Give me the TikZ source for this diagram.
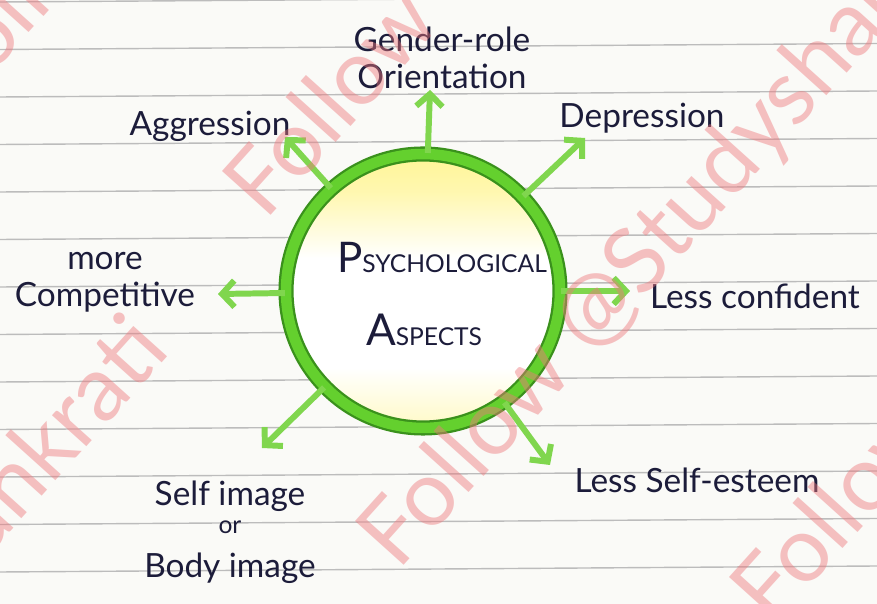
\documentclass[tikz,border=0pt]{standalone}
\usepackage{fontspec}
\setmainfont{Lato}
\usetikzlibrary{arrows.meta,positioning}

\definecolor{paper}{RGB}{250,250,247}
\definecolor{ruling}{RGB}{188,188,188}
\definecolor{ink}{RGB}{28,28,58}
\definecolor{ringdark}{RGB}{58,145,28}
\definecolor{ringgreen}{RGB}{100,208,46}
\definecolor{spokegreen}{RGB}{128,214,78}
\definecolor{lemon}{RGB}{255,245,150}
\definecolor{pinkmark}{RGB}{238,120,124}

% yellow at the rim, white round the text
\pgfdeclareverticalshading{hubfill}{100bp}{%
  color(0bp)=(lemon!55); color(25bp)=(lemon!55); color(36bp)=(white);
  color(56bp)=(white); color(68bp)=(lemon!75); color(75bp)=(lemon);
  color(100bp)=(lemon)}

\begin{document}
\begin{tikzpicture}[x=0.02cm, y=-0.02cm,
    hub/.style = {circle, minimum size=5.48cm, inner sep=0pt,
      draw=ringdark, line width=1.3pt, double=ringgreen, double distance=6pt,
      shading=hubfill},
    spoke/.style = {draw=spokegreen, line width=3.4pt,
      -{Straight Barb[length=7pt,width=15pt]}},
    aspect/.style = {text=ink, font=\fontsize{19}{21}\selectfont, align=center},
    hubtext/.style = {text=ink, font=\fontsize{14}{16}\selectfont},
    watermark/.style = {text=pinkmark, opacity=0.45, rotate=48, inner sep=0pt,
      font=\fontsize{52}{54}\selectfont}]

  % paper and ruled lines
  \path[use as bounding box, fill=paper] (0,0) rectangle (877,604);
  \foreach \i in {0,...,12}
    \draw[ruling, line width=0.8pt] (0,2+47.5*\i) -- (877,-4+47.5*\i);

  % centre
  \node[hub] (hub) at (423,291) {};
  \node[hubtext] (psy) at (442,257) {{\fontsize{24}{24}\selectfont P}SYCHOLOGICAL};
  \node[hubtext] (asp) at (424,330) {{\fontsize{25}{25}\selectfont A}SPECTS};

  % aspects
  \node[aspect] (gender) at (442,58) {Gender-role\\Orientation};
  \node[aspect] (aggr) at (210,126) {Aggression};
  \node[aspect] (depr) at (642,118) {Depression};
  \node[aspect] (compet) at (105,282) {more\\Competitive};
  \node[aspect] (lessconf) at (755,296) {Less confident};
  \node[aspect] (lessself) at (697,480) {Less Self-esteem};
  \node[aspect] (selfimg) at (230,532)
    {Self image\\[-5pt]{\fontsize{14}{14}\selectfont or}\\[4pt]Body image};

  % arrow ends
  \coordinate (tgender) at (430,90);
  \coordinate (taggr) at (285,137);
  \coordinate (tdepr) at (585,138);
  \coordinate (tcompet) at (218,294);
  \coordinate (tlessconf) at (630,291);
  \coordinate (tselfimg) at (262,448);
  \coordinate (tlessself) at (550,465);

  \foreach \t in {tgender,taggr,tdepr,tcompet,tlessconf,tselfimg,tlessself}
    \draw[spoke] (hub) -- (\t);

  % watermark
  \begin{scope}
    \clip (0,0) rectangle (877,604);
    \node[watermark, anchor=base west] (wm1) at (398,572) {Follow @Studyshankrati};
    \node[watermark, anchor=base west] (wm2) at (265,222) {Follow @Studyshankrati};
    \node[watermark, anchor=base east] (wm3) at (172,352) {Follow @Studyshankrati};
    \node[watermark, anchor=base west] (wm4) at (772,628) {Follow @Studyshankrati};
    \node[watermark, anchor=base west] (wm5) at (-42,112) {Follow @Studyshankrati};
  \end{scope}
\end{tikzpicture}
\end{document}
